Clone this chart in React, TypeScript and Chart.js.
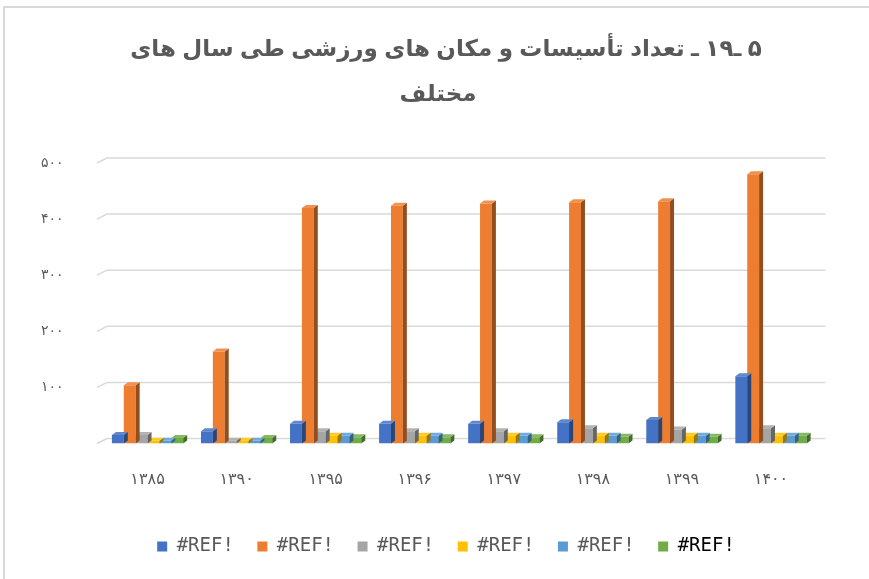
import React, { useEffect, useRef } from 'react';
import { Chart, registerables } from 'chart.js';

Chart.register(...registerables);

const categories = ['۱۳۸۵', '۱۳۹۰', '۱۳۹۵', '۱۳۹۶', '۱۳۹۷', '۱۳۹۸', '۱۳۹۹', '۱۴۰۰'];
const seriesNames = ['#REF!', '#REF!', '#REF!', '#REF!', '#REF!', '#REF!'];
const seriesBlue = [15, 22, 35, 35, 35, 38, 42, 120];
const seriesOrange = [104, 164, 420, 424, 428, 430, 432, 480];
const seriesGray = [15, 5, 22, 22, 22, 27, 25, 27];
const seriesYellow = [5, 5, 14, 14, 14, 14, 14, 14];
const seriesLightBlue = [5, 5, 14, 14, 14, 14, 14, 14];
const seriesGreen = [10, 10, 11, 11, 11, 12, 12, 14];
const yMin = 0;
const yMax = 500;
const yStep = 100;
const titleLines = ['۵ ـ۱۹ ـ تعداد تأسیسات و مکان های ورزشی طی سال های', 'مختلف'];

const colors = ['#4472C4', '#ED7D31', '#A5A5A5', '#FFC000', '#5B9BD5', '#70AD47'];
const faDigits = '۰۱۲۳۴۵۶۷۸۹';
const toFa = (n: number) => String(n).replace(/[0-9]/g, (d) => faDigits[Number(d)]);

function shade(hex: string, f: number) {
  const n = parseInt(hex.slice(1), 16);
  let r = (n >> 16) & 255, g = (n >> 8) & 255, b = n & 255;
  if (f < 1) { r *= f; g *= f; b *= f; }
  else { r = r + (255 - r) * (f - 1); g = g + (255 - g) * (f - 1); b = b + (255 - b) * (f - 1); }
  return `rgb(${Math.round(r)},${Math.round(g)},${Math.round(b)})`;
}

const titlePlugin = {
  id: 'rtlTitle',
  afterDraw(chart: any) {
    const { ctx } = chart;
    ctx.save();
    ctx.direction = 'rtl';
    ctx.font = "bold 23px 'Liberation Sans', 'DejaVu Sans', sans-serif";
    ctx.fillStyle = '#595959';
    ctx.textBaseline = 'middle';
    ctx.textAlign = 'center';
    ctx.fillText(titleLines[0], 446, 50);
    ctx.fillText(titleLines[1], 438, 95);
    ctx.restore();
  },
};

const gridPlugin = {
  id: 'wallGrid',
  beforeDatasetsDraw(chart: any) {
    const { ctx, chartArea, scales } = chart;
    const y = scales.y;
    ctx.save();
    ctx.strokeStyle = '#d9d9d9';
    ctx.lineWidth = 1.5;
    for (let v = yMin; v <= yMax; v += yStep) {
      const py = y.getPixelForValue(v);
      ctx.beginPath();
      ctx.moveTo(chartArea.left - 6, py);
      ctx.lineTo(chartArea.left + 4, py - 5);
      ctx.lineTo(chartArea.right + 10, py - 5);
      ctx.stroke();
    }
    ctx.restore();
  },
};

const bar3dPlugin = {
  id: 'bar3d',
  afterDatasetDraw(chart: any, args: any) {
    const { ctx } = chart;
    const meta = args.meta;
    const base = colors[args.index];
    const dx = 4, dy = 3;
    ctx.save();
    meta.data.forEach((bar: any) => {
      const { x, y, base: b, width } = bar.getProps(['x', 'y', 'base', 'width'], true);
      const l = x - width / 2, r = x + width / 2;
      ctx.fillStyle = shade(base, 0.62);
      ctx.beginPath();
      ctx.moveTo(r, y);
      ctx.lineTo(r + dx, y - dy);
      ctx.lineTo(r + dx, b - dy);
      ctx.lineTo(r, b);
      ctx.closePath();
      ctx.fill();
      ctx.fillStyle = shade(base, 1.15);
      ctx.beginPath();
      ctx.moveTo(l, y);
      ctx.lineTo(l + dx, y - dy);
      ctx.lineTo(r + dx, y - dy);
      ctx.lineTo(r, y);
      ctx.closePath();
      ctx.fill();
    });
    ctx.restore();
  },
};

export default function App() {
  const ref = useRef<HTMLCanvasElement>(null);
  useEffect(() => {
    if (!ref.current) return;
    const values = [seriesBlue, seriesOrange, seriesGray, seriesYellow, seriesLightBlue, seriesGreen];
    const chart = new Chart(ref.current, {
      type: 'bar',
      data: {
        labels: categories,
        datasets: values.map((vals, i) => ({
          label: seriesNames[i],
          data: vals,
          backgroundColor: colors[i],
          borderWidth: 0,
          categoryPercentage: 0.8,
          barPercentage: 1,
        })),
      },
      plugins: [gridPlugin, bar3dPlugin, titlePlugin],
      options: {
        responsive: false,
        animation: false,
        layout: { padding: { left: 76.5, right: 53.5, top: 163, bottom: 13 } },
        scales: {
          x: {
            grid: { display: false, drawTicks: false },
            border: { display: false },
            ticks: {
              padding: 27,
              color: '#595959',
              font: { family: "'DejaVu Sans', sans-serif", size: 16 },
            },
            afterFit: (s: any) => { s.height = 70; },
          },
          y: {
            min: yMin,
            max: yMax,
            grid: { display: false, drawTicks: false },
            border: { display: false },
            ticks: {
              stepSize: yStep,
              mirror: true,
              padding: -62,
              color: '#595959',
              font: { family: "'DejaVu Sans', sans-serif", size: 14 },
              callback: (v: any) => (Number(v) === 0 ? '' : toFa(Number(v))),
            },
            afterFit: (s: any) => { s.width = 26.5; },
          },
        },
        plugins: {
          title: { display: false },
          legend: {
            position: 'bottom',
            labels: {
              boxWidth: 10,
              boxHeight: 10,
              padding: 23.5,
              color: '#595959',
              font: { family: "'DejaVu Sans Mono', monospace", size: 19 },
              generateLabels: (c: any) => {
                const items = Chart.defaults.plugins.legend.labels.generateLabels(c);
                return items.map((it: any, i: number) => ({ ...it, fontColor: i === 5 ? '#000000' : '#595959', lineWidth: 0 }));
              },
            },
          },
          tooltip: { enabled: false },
        },
      },
    });
    return () => chart.destroy();
  }, []);
  return (
    <div style={{ position: 'fixed', left: 0, top: 0, width: 869, height: 579, overflow: 'hidden', background: '#fff' }}>
      <div style={{ position: 'absolute', left: 3, top: 6, width: 880, height: 590, borderLeft: '2px solid #d9d9d9', borderTop: '2px solid #d9d9d9' }} />
      <canvas ref={ref} width={869} height={579} style={{ position: 'absolute', left: 0, top: 0 }} />
    </div>
  );
}
